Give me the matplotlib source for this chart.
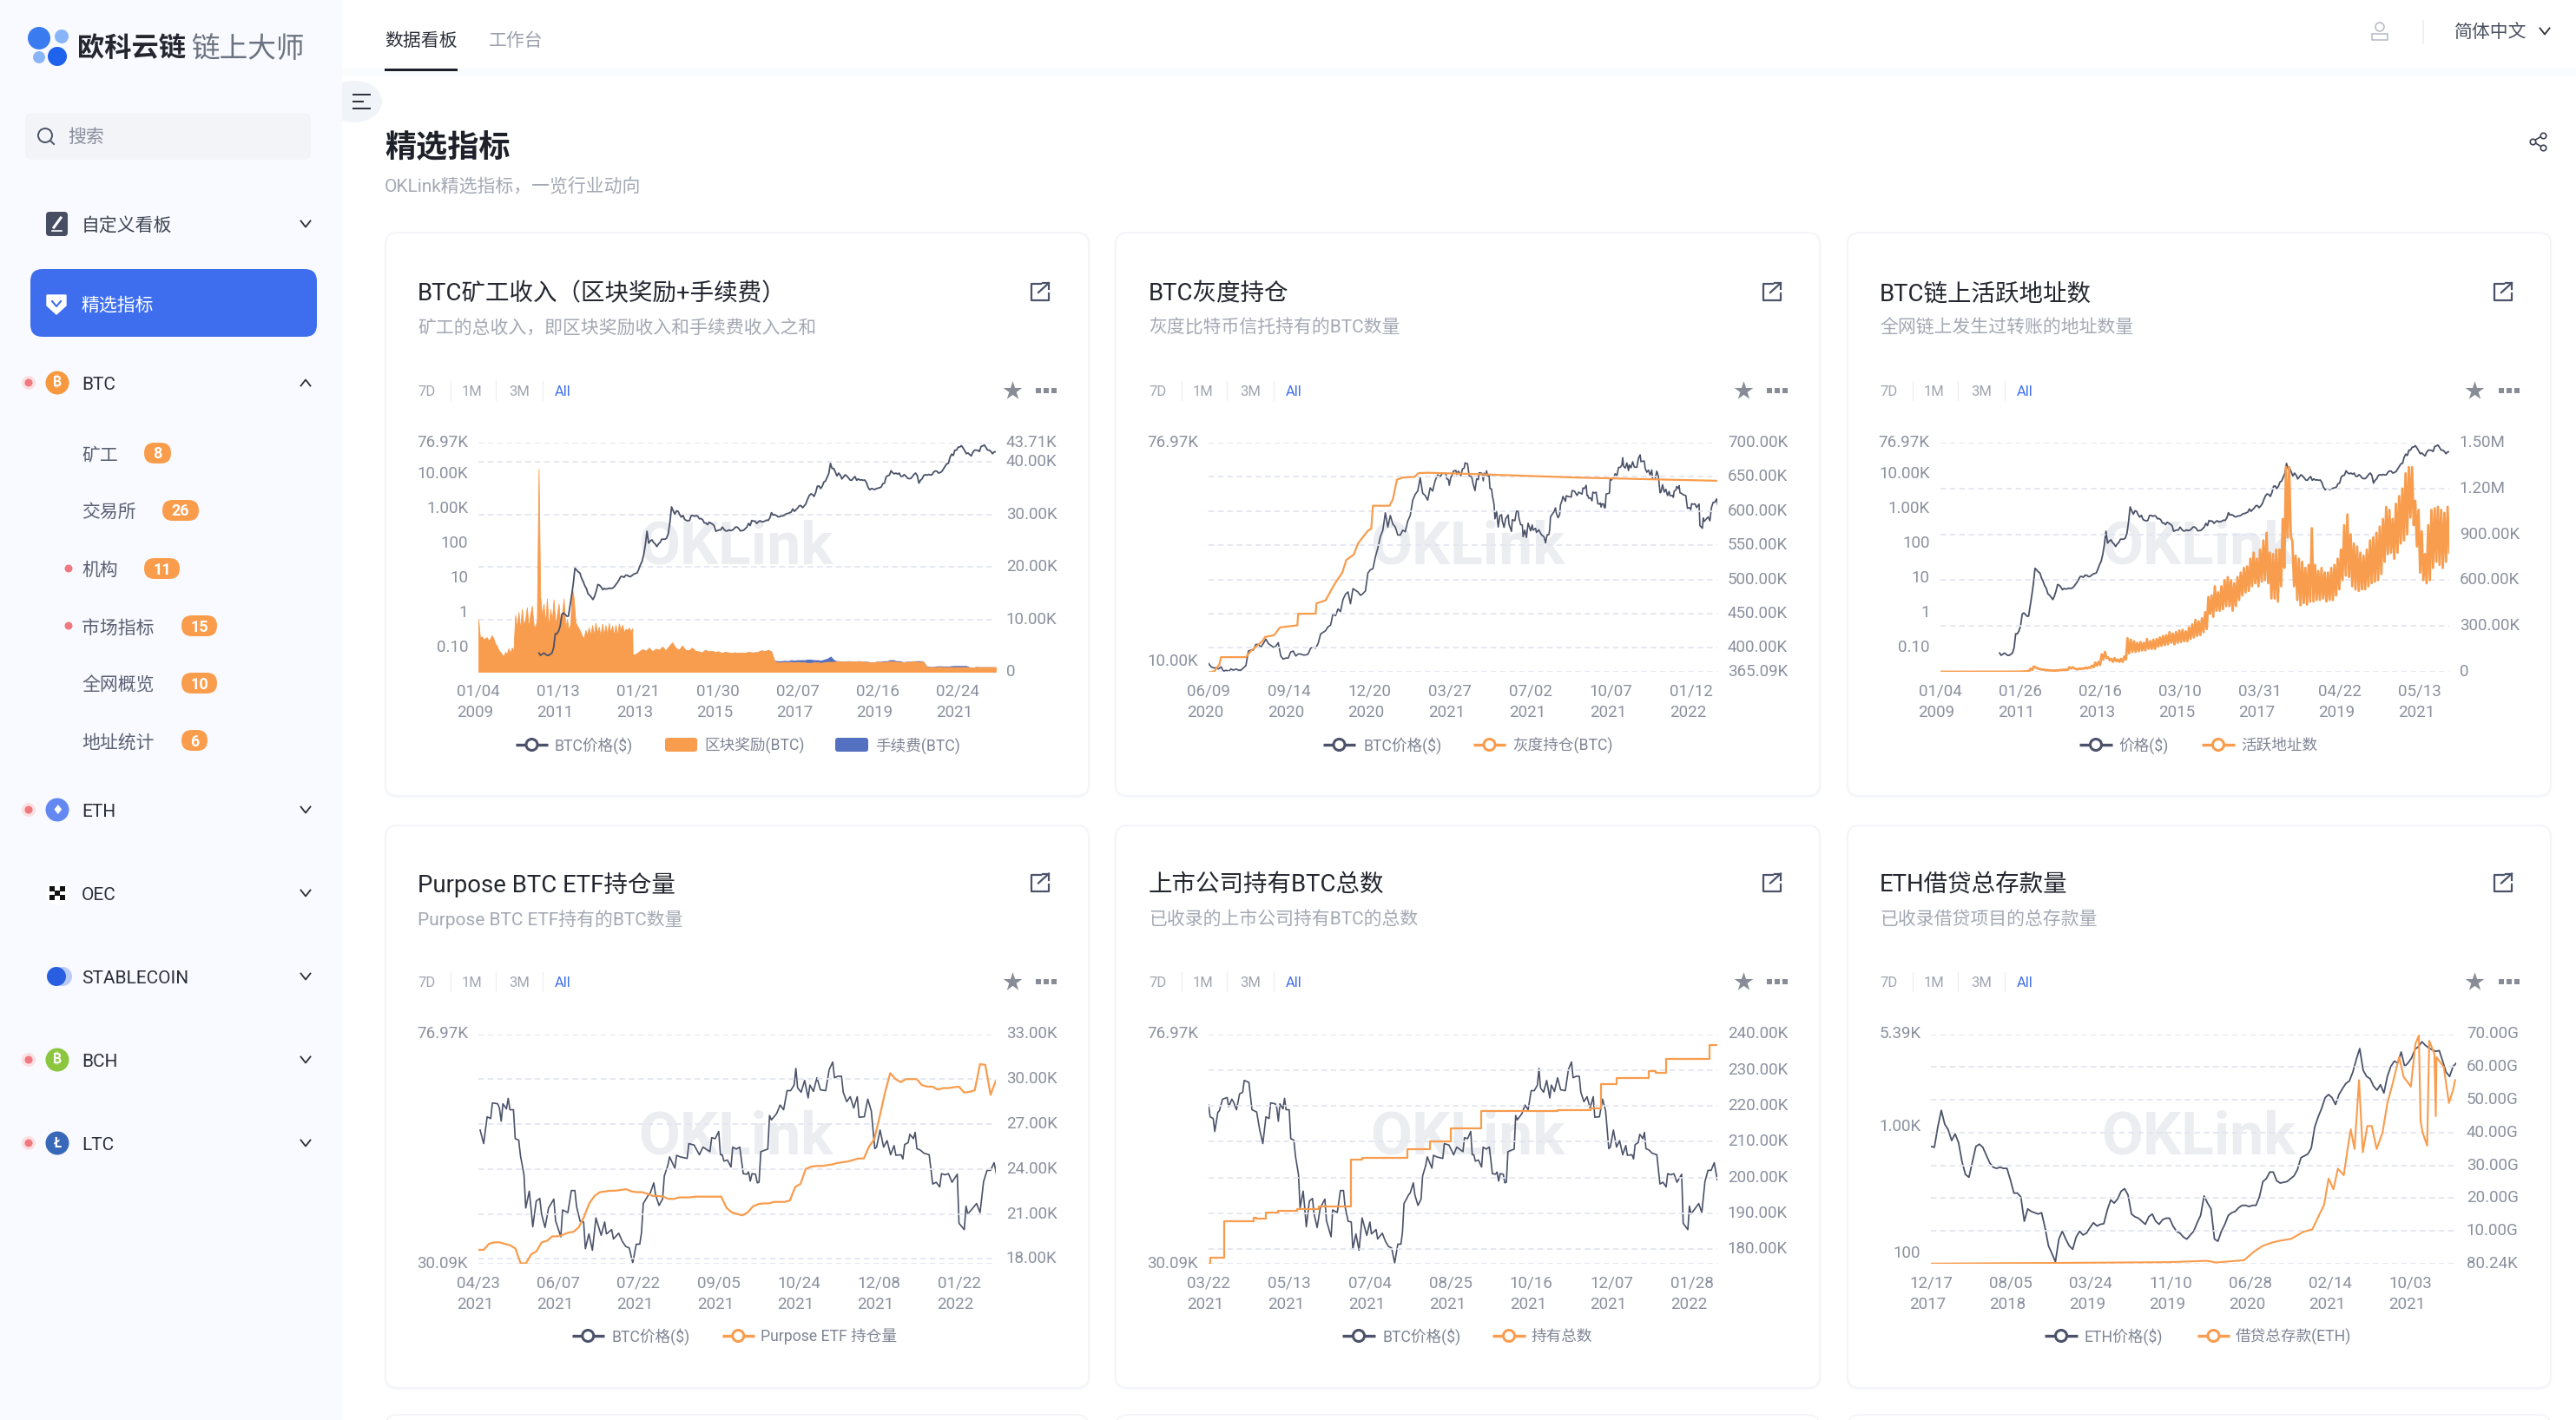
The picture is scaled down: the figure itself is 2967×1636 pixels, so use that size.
import matplotlib
matplotlib.use("Agg")
import matplotlib.dates as mdates
import matplotlib.pyplot as plt
import numpy as np
import pandas as pd
from matplotlib.patches import Circle, Ellipse, FancyBboxPatch, Rectangle
from matplotlib.transforms import ScaledTranslation

plt.rcParams["font.family"] = ["Roboto", "Noto Sans CJK SC", "DejaVu Sans"]

W, H = 2967, 1636

# --- chart data ------------------------------------------------------------
# BTC price, two readings a month, 2010-07 .. 2022-02
btc_history = [
    0.07, 0.06, 0.065, 0.07, 0.065, 0.06, 0.06, 0.065, 0.07, 0.1, 0.25, 0.25,
    0.3, 0.42, 0.9, 1.0, 0.9, 0.8, 0.8, 1.6, 3.2, 7, 19, 17, 15, 14, 10, 8, 6, 5, 3.5, 3.2, 2.8, 2.4, 3, 4.2,
    6.5, 6.2, 5.5, 4.6, 5, 4.8, 4.9, 5.1, 5, 5.1, 5.6, 6.5, 7.5, 9, 11, 11, 10.5, 12, 12, 11, 11, 12, 13, 13.5,
    14, 18, 24, 30, 47, 90, 220, 100, 115, 125, 105, 95, 80, 95, 105, 130, 130, 130, 140, 190, 400, 1100, 850, 680,
    850, 820, 650, 560, 630, 480, 450, 440, 450, 620, 630, 590, 620, 590, 500, 510, 470, 380, 380, 340, 400, 375, 350, 320,
    220, 230, 240, 240, 290, 250, 225, 225, 240, 230, 235, 255, 290, 290, 265, 225, 230, 235, 260, 290, 370, 320, 450, 430,
    430, 370, 410, 440, 410, 415, 430, 460, 450, 530, 750, 640, 660, 625, 570, 575, 605, 610, 640, 700, 710, 745, 780, 960,
    820, 920, 1020, 1190, 1200, 1040, 1170, 1350, 1800, 2300, 2600, 2500, 2200, 2850, 4300, 4400, 3700, 4300, 5700, 6100, 7800, 10000, 19500, 14000,
    14000, 11000, 8500, 10300, 9000, 7000, 8000, 9200, 8500, 7500, 6500, 6400, 7400, 8200, 6400, 7000, 6500, 6600, 6400, 6500, 5500, 4000, 3400, 3700,
    3600, 3450, 3700, 3800, 3900, 4100, 5100, 5300, 8000, 8700, 9000, 12000, 10500, 9800, 10300, 9600, 10300, 8300, 8300, 9300, 8500, 7400, 7100, 7200,
    8100, 9400, 10300, 8800, 5300, 6400, 7100, 8800, 9300, 9000, 9400, 9100, 9200, 11000, 11800, 11700, 10300, 10700, 11400, 13500, 16000, 19000, 19500, 29000,
    36000, 33000, 47000, 47000, 57000, 58000, 63000, 54000, 45000, 37000, 39000, 35000, 32000, 41000, 47000, 47000, 46000, 43000, 60000, 62000, 66000, 56000, 47000, 47000,
    43000, 37000, 42000, 42000,
]

# BTC price every 3 days from 2020-06-09 to 2021-03-18, in $K
btc_2020 = [
    9.8, 9.5, 9.4, 9.4, 9.3, 9.5, 9.1, 9.2, 9.1, 9.3, 9.2, 9.3, 9.2, 9.2, 9.4, 9.6, 11.0, 11.1,
    11.1, 11.7, 11.7, 11.4, 11.8, 12.3, 11.8, 11.6, 11.4, 11.5, 11.9, 10.5, 10.2, 10.3, 10.3,
    10.9, 11.0, 10.5, 10.7, 10.7, 10.6, 10.6, 10.7, 11.3, 11.4, 11.3, 11.8, 12.9, 13.1, 13.3,
    13.8, 14.0, 15.6, 15.3, 16.3, 15.9, 17.8, 18.7, 19.1, 17.1, 19.7, 19.4, 19.1, 18.5, 18.8,
    19.3, 22.8, 23.5, 23.7, 26.5, 28.8, 32, 34, 40, 35, 39, 36, 35, 32.5, 32.5, 34, 33.5, 37,
    39, 45, 47.5, 49, 55.5, 48, 47, 45, 50.5, 49, 54, 57, 56, 58,
]

# BTC price turning points, days after 2021-03-22, in $K
btc_2021_days = [
    0, 1, 3, 4, 6, 7, 9, 12, 13, 15, 16, 18, 20, 22, 23, 26, 28, 31, 33, 35, 37, 39, 40, 43, 44, 45, 46, 48,
    49, 50, 52, 53, 55, 56, 58, 59, 61, 62, 63, 65, 67, 68, 70, 72, 75, 76, 79, 80, 83, 85, 87, 88, 90, 92,
    93, 95, 97, 99, 102, 104, 105, 108, 109, 112, 114, 116, 118, 120, 122, 124, 125, 126, 129, 130, 132, 133,
    135, 137, 138, 140, 141, 144, 145, 147, 151, 152, 155, 158, 160, 164, 165, 167, 169, 170, 171, 172, 174,
    176, 177, 179, 181, 183, 185, 186, 187, 188, 190, 191, 192, 193, 197, 198, 199, 202, 204, 206, 208, 210,
    212, 213, 214, 216, 218, 220, 221, 223, 225, 227, 230, 232, 234, 235, 237, 239, 240, 242, 244, 246, 248,
    249, 252, 253, 254, 256, 258, 259, 261, 263, 265, 267, 269, 270, 273, 274, 275, 277, 278, 280, 281, 282,
    284, 286, 289, 291, 293, 295, 296, 298, 300, 302, 305, 306, 309, 310, 311, 313, 316, 318, 320, 322, 324,
    326, 328,
]
btc_2021 = [
    57.6, 54.9, 54.5, 51.7, 55.9, 56.3, 59.0, 59.4, 57.2, 59.0, 58.4, 56.5, 60.3, 60.7, 63.7, 63.2, 56.5, 56.0,
    52.0, 49.2, 54.9, 54.5, 58.1, 57.9, 56.9, 53.9, 57.9, 56.7, 59.2, 56.5, 56.5, 50.2, 49.9, 46.8, 43.3, 37.8,
    40.5, 37.8, 35.0, 38.9, 39.3, 36.9, 34.9, 37.8, 39.2, 35.9, 33.6, 37.5, 37.1, 40.6, 40.6, 38.0, 35.8, 35.7,
    32.0, 34.0, 31.8, 36.3, 33.8, 35.7, 34.0, 34.6, 33.3, 34.1, 33.0, 32.3, 32.1, 30.2, 32.6, 32.6, 34.2, 38.5,
    39.9, 40.2, 41.9, 39.9, 38.2, 39.2, 43.1, 45.0, 46.6, 44.5, 46.9, 46.6, 46.3, 49.2, 48.9, 47.0, 48.5, 47.6,
    50.4, 50.2, 51.7, 47.0, 47.0, 45.8, 46.0, 44.7, 48.5, 48.1, 48.5, 43.5, 43.4, 43.8, 42.2, 43.5, 43.4, 41.9,
    42.0, 47.6, 48.1, 55.2, 54.2, 55.6, 57.6, 56.5, 61.1, 61.1, 62.5, 66.9, 61.8, 60.7, 63.7, 59.3, 62.5, 60.9,
    64.4, 61.3, 61.1, 66.6, 68.7, 64.4, 64.8, 64.8, 60.7, 58.4, 59.6, 56.9, 59.6, 54.8, 54.9, 56.9, 59.0, 56.2,
    48.2, 48.5, 52.0, 48.5, 49.8, 47.0, 48.8, 46.9, 47.0, 46.2, 49.0, 49.4, 51.1, 50.2, 51.5, 48.2, 47.9, 47.3,
    47.0, 41.7, 42.0, 41.2, 43.5, 43.3, 43.5, 42.0, 43.4, 35.5, 34.6, 38.1, 36.9, 37.5, 38.5, 37.1, 42.1, 44.1,
    44.1, 45.5, 42.4,
]

# block reward, BTC: twice a month 2009-01 .. 2012-11, then monthly, in K
reward_early = [
    10, 6.4, 6.8, 6.2, 6.4, 6.6, 6.0, 6.3, 7.0, 6.4, 5.4, 5.0, 4.2, 3.8, 3.4, 2.9, 3.8, 3.4, 4.5,
    3.6, 4.6, 4.0, 10.8, 8.5, 11.4, 8.2, 12.0, 8.8, 10.0, 12.3, 8.4, 11, 12.6, 9.0, 8.4, 10,
    38.7, 14.4, 10.5, 13, 9.2, 14, 8.5, 12, 9.8, 13.8, 9, 11, 13, 8.7, 11, 14, 8.4, 10, 7.9,
    9.2, 16, 14, 9.5, 8.8, 8.3, 7.6, 6.8, 6.4, 8, 7, 8.5, 7, 8.9, 7, 9.4, 7.4, 8.6, 6.9, 9.2,
    7.0, 8.9, 7.2, 9.3, 7.5, 8.8, 7, 9.0, 7.0, 9.2, 8, 9, 7.5, 8.2, 8, 8.4, 7.8, 8.3,
]
reward_late = [
    3.3,
    3.4, 3.9, 4.3, 4.0, 4.6, 3.9, 4.4, 4.2, 4.8, 4.1, 4.9, 5.6,
    4.6, 4.2, 5.0, 4.2, 4.1, 4.6, 4.0, 3.9, 3.7, 4.2, 3.9, 4.0,
    3.8, 3.9, 3.6, 3.8, 3.7, 3.6, 3.7, 3.6, 3.7, 3.6, 3.8, 3.7,
    3.7, 3.8, 4.1, 3.9, 4.2, 3.9, 2.0, 1.8, 1.8, 1.9, 1.8, 1.9,
    1.8, 1.9, 1.8, 1.8, 1.7, 1.7, 1.8, 1.8, 1.7, 1.8, 1.9, 1.9,
    1.9, 2.0, 2.0, 1.9, 2.0, 2.0, 1.9, 2.0, 2.0, 1.9, 1.9, 1.8,
    1.8, 1.9, 1.9, 1.9, 1.9, 2.0, 2.0, 1.9, 1.9, 1.8, 1.9, 1.9,
    2.0, 1.9, 1.9, 2.0, 0.95, 0.9, 0.9, 0.9, 0.95, 0.9, 0.9, 0.9,
    0.9, 0.9, 0.9, 0.9, 0.9, 0.85, 0.8, 0.9, 0.9, 0.9, 0.9, 0.9,
    0.9, 0.9,
]
fee_late = [
    0.01,
    0.03, 0.03, 0.05, 0.05, 0.03, 0.03, 0.03, 0.03, 0.03, 0.03, 0.05, 0.05,
    0.03, 0.03, 0.03, 0.03, 0.03, 0.03, 0.03, 0.03, 0.03, 0.03, 0.03, 0.03,
    0.03, 0.03, 0.03, 0.03, 0.03, 0.03, 0.05, 0.03, 0.03, 0.03, 0.03, 0.03,
    0.05, 0.05, 0.05, 0.05, 0.05, 0.05, 0.2, 0.3, 0.3, 0.3, 0.3, 0.4,
    0.4, 0.4, 0.5, 0.5, 0.7, 0.7, 0.5, 0.5, 0.5, 0.6, 0.7, 1.1,
    0.4, 0.1, 0.1, 0.1, 0.1, 0.1, 0.1, 0.1, 0.1, 0.1, 0.1, 0.1,
    0.1, 0.1, 0.1, 0.2, 0.2, 0.3, 0.3, 0.2, 0.2, 0.1, 0.1, 0.1,
    0.1, 0.2, 0.2, 0.1, 0.2, 0.1, 0.1, 0.2, 0.2, 0.2, 0.2, 0.2,
    0.3, 0.3, 0.3, 0.3, 0.3, 0.1, 0.05, 0.1, 0.05, 0.05, 0.05, 0.05,
    0.05, 0.05,
]

grayscale_dates = [
    "2020-06-09", "2020-06-16", "2020-06-22", "2020-06-24", "2020-07-24", "2020-07-30",
    "2020-08-13", "2020-08-16", "2020-08-27", "2020-09-03", "2020-09-24", "2020-09-25",
    "2020-10-16", "2020-10-17", "2020-10-28", "2020-11-08", "2020-11-17", "2020-11-22",
    "2020-12-01", "2020-12-06", "2020-12-18", "2020-12-22", "2020-12-24", "2021-01-13",
    "2021-01-17", "2021-01-22", "2021-01-29", "2021-02-12", "2021-02-17", "2021-03-01",
    "2021-04-15", "2021-08-27", "2022-02-12",
]
grayscale_btc = [
    364, 366, 376, 386.5, 386.5, 395.6, 410, 416, 418.6, 430, 433, 450, 450, 465, 469.6, 493.7,
    509.8, 528.5, 536.5, 552.6, 571.4, 574, 607.8, 607.8, 617, 646, 649, 650, 655.5, 656, 654.5,
    649, 644.3,
]

# active addresses per month 2009-01 .. 2022-02, daily high and low, in K
addr_high = [
    0.2, 0.2, 0.2, 0.2, 0.2, 0.2, 0.2, 0.2, 0.2, 0.2, 0.2, 0.2,
    0.5, 0.5, 0.5, 0.5, 0.5, 0.5, 0.6, 0.6, 0.6, 0.7, 0.8, 0.8,
    1, 2, 3, 5, 20, 35, 25, 18, 15, 12, 10, 9,
    10, 12, 14, 15, 30, 30, 18, 22, 22, 28, 30, 40,
    60, 65, 115, 130, 95, 85, 90, 80, 85, 100, 220, 210,
    200, 190, 195, 190, 215, 200, 210, 215, 225, 235, 240, 260,
    250, 260, 270, 275, 265, 290, 310, 340, 330, 350, 390, 490,
    500, 560, 520, 560, 600, 620, 600, 580, 620, 650, 680, 690,
    740, 780, 740, 800, 860, 910, 780, 770, 800, 800, 1000, 1340,
    1340, 850, 760, 740, 720, 680, 700, 940, 700, 660, 680, 650,
    650, 680, 700, 740, 800, 960, 1030, 900, 840, 820, 780, 760,
    800, 860, 880, 910, 950, 1000, 1080, 1060, 1000, 1100, 1150, 1200,
    1300, 1340, 1340, 1120, 1060, 920, 770, 960, 1060, 1070, 1080, 1060,
    1040, 1080,
]
addr_low = [
    0.1, 0.1, 0.1, 0.1, 0.1, 0.1, 0.1, 0.1, 0.1, 0.1, 0.1, 0.1,
    0.2, 0.2, 0.2, 0.2, 0.2, 0.2, 0.3, 0.3, 0.3, 0.3, 0.4, 0.4,
    0.6, 1, 2, 3, 12, 28, 20, 14, 12, 10, 8, 7,
    8, 10, 12, 13, 22, 24, 15, 18, 20, 22, 25, 30,
    40, 45, 80, 90, 75, 65, 70, 65, 65, 80, 120, 130,
    130, 135, 140, 140, 150, 150, 150, 165, 170, 175, 180, 190,
    180, 190, 195, 200, 200, 215, 225, 235, 240, 260, 280, 380,
    360, 400, 400, 410, 430, 430, 400, 430, 470, 500, 520, 530,
    560, 580, 560, 590, 600, 580, 480, 480, 460, 560, 680, 880,
    890, 560, 470, 435, 450, 440, 460, 460, 470, 470, 480, 460,
    470, 470, 500, 540, 600, 630, 620, 560, 540, 530, 540, 540,
    560, 580, 590, 600, 640, 720, 770, 780, 740, 780, 840, 860,
    900, 1010, 960, 820, 650, 600, 580, 600, 680, 720, 700, 680,
    720, 780,
]

# Purpose ETF holdings every 3 days from 2021-04-23, in K
etf_holdings = [
    18.6, 18.6, 19.0, 19.1, 19.1, 19.0, 18.9, 18.7, 17.7, 17.7, 18.3, 18.5, 19.1, 19.2, 19.5, 19.5,
    19.6, 19.75, 19.8, 20.1, 20.8, 21.7, 22.2, 22.45, 22.5, 22.55, 22.55, 22.6, 22.65, 22.5, 22.45,
    22.45, 22.35, 22.2, 22.2, 22.15, 22.0, 22.0, 22.1, 22.1, 22.1, 22.15, 22.15, 22.15, 22.15, 22.15,
    22.15, 21.4, 21.1, 21.0, 20.9, 21.1, 21.5, 21.65, 21.7, 21.7, 21.8, 21.8, 21.8, 21.9, 22.8, 23.0,
    24.0, 24.15, 24.2, 24.2, 24.25, 24.3, 24.4, 24.45, 24.5, 24.6, 24.7, 24.7, 25.5, 26.0, 27.5, 29.1,
    30.4, 30.0, 29.8, 30.0, 30.0, 30.0, 29.6, 29.5, 29.5, 29.3, 29.4, 29.4, 29.45, 29.5, 29.1, 29.15,
    29.25, 31.0, 30.95, 28.95, 29.9,
]

# listed companies' BTC, changes only on these dates, in K
listed_dates = [
    "2021-03-22", "2021-03-23", "2021-04-01", "2021-04-20", "2021-04-22", "2021-04-28", "2021-05-06",
    "2021-05-18", "2021-06-01", "2021-06-22", "2021-06-29", "2021-07-28", "2021-08-12", "2021-08-25",
    "2021-09-14", "2021-11-02", "2021-11-23", "2021-11-30", "2021-12-10", "2021-12-31", "2022-01-04",
    "2022-01-11", "2022-02-08", "2022-02-13",
]
listed_btc = [
    176, 177.6, 187.9, 188.8, 188.5, 190.2, 190.8, 191.2, 192, 205, 205.5, 207.9, 210, 213.7, 218.7,
    218.9, 219.3, 226.2, 227.8, 229.8, 229.3, 233, 236.9, 236.9,
]

# ETH price every 10 days from 2017-12-17
eth_price = [
    700, 690, 1000, 1350, 1050, 950, 780, 880, 750, 530, 420, 400, 530, 700, 730, 690, 600, 520, 480,
    470, 480, 470, 470, 380, 300, 300, 280, 180, 225, 215, 210, 205, 210, 160, 115, 100, 86, 130, 150,
    130, 115, 108, 135, 150, 140, 145, 160, 175, 165, 170, 172, 220, 265, 250, 270, 310, 325, 290, 205,
    195, 190, 180, 170, 195, 205, 180, 170, 185, 190, 190, 165, 150, 145, 135, 130, 140, 150, 175, 200,
    285, 250, 225, 130, 125, 150, 170, 200, 210, 215, 230, 240, 240, 235, 240, 240, 280, 370, 390, 440,
    440, 375, 360, 365, 370, 390, 410, 460, 570, 590, 610, 680, 1000, 1200, 1400, 1700, 1800, 1700, 1500,
    1800, 2000, 2200, 2300, 2700, 3400, 4150, 2800, 2500, 2400, 2100, 1950, 2150, 1850, 2500, 3000, 3300,
    3200, 3900, 3000, 3200, 3500, 4100, 4300, 4700, 4400, 4200, 4050, 3950, 4000, 3300, 2700, 2500, 3000,
    3200,
]

# lending deposits, days after 2017-12-17, in G
lending_days = [
    0, 418, 689, 798, 825, 906, 933, 960, 988, 1008, 1042, 1076, 1103, 1116, 1137, 1150, 1164, 1177, 1194,
    1205, 1214, 1225, 1238, 1249, 1262, 1275, 1289, 1306, 1320, 1333, 1354, 1367, 1388, 1401, 1411, 1416,
    1422, 1435, 1441, 1456, 1460, 1462, 1483, 1498, 1510, 1516,
]
lending_eth = [
    0.05, 0.3, 0.5, 0.9, 0.4, 1.1, 3.6, 5.5, 6.5, 7, 7.6, 9.7, 10.5, 13.4, 18, 26, 22.7, 29, 27, 35, 41, 35,
    56, 34, 42, 42, 35, 40, 49, 54, 63, 57, 54, 67, 69.6, 43.5, 40, 36, 68, 64, 45, 63, 60, 49, 53, 56,
]

# --- colours ---------------------------------------------------------------
DARK = "#4b5269"
ORANGE = "#f89c4d"
BLUE = "#5470c0"
GRID = "#e3e5f0"
TICK = "#8b909e"
SUB = "#a3a8b3"
ACCENT = "#3e6eee"
SIDE = "#f8faff"

fig = plt.figure(figsize=(W / 100, H / 100), dpi=100, facecolor="white")
bg = fig.add_axes([0, 0, 1, 1], zorder=0)
bg.set_xlim(0, W)
bg.set_ylim(H, 0)
bg.axis("off")


def t(x, y, s, size=15, color="#2b2f38", ha="left", weight="normal", **kw):
    bg.text(x, y + 2.5, s, fontsize=size, color=color, ha=ha, va="center", weight=weight, **kw)


def box(x0, y0, x1, y1, r, fc, ec="none", lw=1.0, z=1):
    bg.add_patch(FancyBboxPatch((x0 + r, y0 + r), x1 - x0 - 2 * r, y1 - y0 - 2 * r,
                                boxstyle=f"round,pad={r},rounding_size={r}",
                                fc=fc, ec=ec, lw=lw, zorder=z))


def chevron(x, y, up=False):
    d = -3.5 if up else 3.5
    bg.plot([x - 5.5, x, x + 5.5], [y - d, y + d, y - d], color="#2b2f38", lw=1.3, zorder=3)


def dot(x, y):
    bg.add_patch(Circle((x, y), 8, fc="#fbdfe2", ec="none", zorder=3))
    bg.add_patch(Circle((x, y), 4.5, fc="#f0797f", ec="none", zorder=4))


# --- sidebar and header ----------------------------------------------------
bg.add_patch(Ellipse((408, 117), 64, 48, fc="#f0f3f8", ec="none", zorder=0.2))
bg.add_patch(Rectangle((0, 0), 394, H, fc=SIDE, ec="none", zorder=0.5))
bg.add_patch(Rectangle((394, 78), W - 394, 10, fc="#fafbfc", ec="none", zorder=0))
for yy, x1 in [(109, 426), (117, 418), (125, 426)]:
    bg.plot([407, x1], [yy, yy], color="#2b2f38", lw=1.4, zorder=2)

bg.add_patch(Circle((45, 44), 13, fc="#3a7bf0", ec="none", zorder=2))
bg.add_patch(Circle((71, 42), 8, fc="#8ab4f8", ec="none", zorder=2))
bg.add_patch(Circle((45, 66), 7, fc="#8ab4f8", ec="none", zorder=2))
bg.add_patch(Circle((66, 65), 11, fc="#1f62ec", ec="none", zorder=2))
t(89, 54, "欧科云链", 22.5, "#24272f", weight="bold", zorder=3)
t(220, 54, "链上大师", 23.5, "#6b7280", zorder=3)

t(443, 45, "数据看板", 15, "#2b2f38")
t(563, 45, "工作台", 15, "#9a9fac")
bg.add_patch(Rectangle((443, 79), 84, 3, fc="#1b1f2a", ec="none", zorder=2))

box(29, 130, 358, 184, 8, "#f2f4f8")
bg.add_patch(Circle((52, 156), 8, fc="none", ec="#4b5269", lw=1.4, zorder=2))
bg.plot([58, 62], [162, 166], color="#4b5269", lw=1.4, zorder=2)
t(78, 155.5, "搜索", 15, "#8a8f9d", zorder=3)

box(53, 244, 78, 272, 4, "#474e64")
bg.plot([60, 71], [266, 266], color="white", lw=1.2, zorder=3)
bg.plot([62, 70], [262, 251], color="white", lw=2.2, zorder=3)
t(94, 258, "自定义看板", 15, "#3c4252", zorder=3)
chevron(352, 258)

box(35, 310, 365, 388, 14, ACCENT)
bg.fill([54, 76, 76, 65, 54], [340, 340, 352, 362, 352], color="white", zorder=3)
bg.plot([60, 65, 70], [347, 353, 347], color=ACCENT, lw=1.5, zorder=4)
t(93, 349, "精选指标", 15, "white", zorder=3)

coin_rows = [
    ("BTC", 441, "#f7983e", "₿"),
    ("ETH", 933, "#6488f2", "♦"),
    ("OEC", 1029, "white", ""),
    ("STABLECOIN", 1125, "#2a5ee0", ""),
    ("BCH", 1221, "#8cc63f", "₿"),
    ("LTC", 1317, "#3868b8", "Ł"),
]
red_rows = ["BTC", "ETH", "BCH", "LTC"]
for name, yy, col, glyph in coin_rows:
    if name in red_rows:
        dot(33, yy)
    if name == "STABLECOIN":
        bg.add_patch(Circle((72, yy), 11, fc="#b9cbf5", ec="none", zorder=2))
        bg.add_patch(Circle((65, yy), 11, fc=col, ec="none", zorder=3))
    else:
        bg.add_patch(Circle((66, yy), 13.5, fc=col, ec="none", zorder=2))
        bg.text(66, yy, glyph, fontsize=11, color="white", ha="center", va="center",
                family=["Inter", "Noto Sans", "Roboto", "Open Sans", "Lato", "DejaVu Sans"], weight="bold", zorder=3)
    if name == "OEC":
        bg.scatter([60, 72, 66, 60, 72], [yy - 5, yy - 5, yy, yy + 5, yy + 5], marker="s", s=18, color="#111111", lw=0, zorder=3)
    t(94, yy, name, 15, "#2b2f38", zorder=3)
    chevron(352, yy, up=name == "BTC")

sub_rows = [("矿工", "8", 522, 166, 197), ("交易所", "26", 588, 187, 229), ("机构", "11", 655, 166, 207),
            ("市场指标", "15", 721, 209, 250), ("全网概览", "10", 787, 209, 250), ("地址统计", "6", 853, 209, 239)]
for label, count, yy, p0, p1 in sub_rows:
    t(94, yy, label, 15, "#5a6072", zorder=3)
    box(p0, yy - 12, p1, yy + 12, 12, "#f99d4d")
    t((p0 + p1) / 2, yy - 1, count, 13, "white", ha="center", weight="bold", zorder=3)
for yy in (655, 721):
    bg.add_patch(Circle((79, yy), 4.5, fc="#f0797f", ec="none", zorder=3))

t(443, 169, "精选指标", 26, "#1e2129", weight="bold")
t(443, 213, "OKLink精选指标，一览行业动向", 15, SUB)

# top right
bg.add_patch(Circle((2741, 31), 5, fc="none", ec="#b4b8c2", lw=1.1, zorder=2))
bg.add_patch(Rectangle((2732, 39), 18, 7, fc="none", ec="#b4b8c2", lw=1.1, zorder=2))
bg.plot([2791, 2791], [24, 50], color="#eceef2", lw=1.2, zorder=2)
t(2827, 35, "简体中文", 15, "#4a5060")
chevron(2931, 36)
for p, q in [((2917, 163), (2929, 156)), ((2917, 163), (2929, 170))]:
    bg.plot([p[0], q[0]], [p[1], q[1]], color="#3c4252", lw=1.2, zorder=2)
bg.scatter([2917, 2929, 2929], [163, 156, 170], s=22, fc="white", ec="#3c4252", lw=1.2, zorder=3)


def card_chrome(col_x, row_y, title, subtitle, title_x, export_x, star_x, dots_x, wm_x, rows):
    x0, x1 = col_x
    y0, y1 = row_y
    box(x0 - 2, y0 - 1, x1 + 2, y1 + 3, 16, "#fafbfc", z=0)
    box(x0, y0, x1, y1, 14, "white", ec="#f3f4f8", lw=1.2, z=1)
    ty, sy, by, wy = rows
    t(title_x, ty + 0.5, title, 19.8, "#23262e", zorder=3)
    t(title_x, sy + 0.5, subtitle, 15, SUB, zorder=3)
    for dx, lab, col in [(0, "7D", "#a0a5b0"), (51, "1M", "#a0a5b0"), (105, "3M", "#a0a5b0"), (158, "All", ACCENT)]:
        t(title_x + dx, by - 1, lab, 12, col, zorder=3)
    for dx in (38, 90, 144):
        bg.plot([title_x + dx] * 2, [by - 11, by + 11], color="#eef0f4", lw=1, zorder=3)
    bg.scatter([star_x], [by], marker="*", s=270, color="#888c96", lw=0, zorder=3)
    bg.scatter([dots_x - 9, dots_x, dots_x + 9], [by] * 3, marker="s", s=17, color="#888c96", lw=0, zorder=3)
    ex = export_x
    bg.plot([ex + 1, ex - 10, ex - 10, ex + 10, ex + 10], [ty - 9, ty - 9, ty + 10, ty + 10, ty + 2],
            color=DARK, lw=1.6, zorder=3)
    bg.plot([ex - 2, ex + 10], [ty + 1, ty - 10], color=DARK, lw=1.6, zorder=3)
    bg.plot([ex + 3, ex + 10, ex + 10], [ty - 10, ty - 10, ty - 3], color=DARK, lw=1.6, zorder=3)
    bg.text(wm_x, wy + 7, "OKLink", fontsize=50, color="#ebedf0", ha="center", va="center", weight="bold", zorder=2)


def line_key(x0, x1, y, col, label, tx):
    bg.plot([x0, x1], [y, y], color=col, lw=2.4, zorder=3, solid_capstyle="butt")
    bg.add_patch(Circle(((x0 + x1) / 2, y), 6.5, fc="white", ec=col, lw=2.2, zorder=4))
    t(tx, y - 1.5, label, 12.7, "#7e8494", zorder=3)


def area_key(x0, x1, y, col, label, tx):
    box(x0, y - 8, x1, y + 8, 3, col, z=3)
    t(tx, y - 1.5, label, 12.7, "#7e8494", zorder=3)


def panel(box_px, start, end, tick_labels, left_ticks, left_labels, left_lim, right_ticks, right_labels, right_lim):
    x0, x1, y0, y1 = box_px
    ax = fig.add_axes([x0 / W, 1 - y1 / H, (x1 - x0) / W, (y1 - y0) / H], zorder=1)
    ax.patch.set_visible(False)
    ax.set_yscale("log")
    ax.set_ylim(*left_lim)
    ax.set_yticks(left_ticks, left_labels)
    ax.minorticks_off()
    ax.tick_params(axis="y", length=0, pad=8.5, labelsize=13.5, labelcolor=TICK)
    ax.tick_params(axis="x", length=0, pad=10, labelsize=13.5, labelcolor=TICK)
    ax.set_xlim(mdates.date2num(pd.Timestamp(start)), mdates.date2num(pd.Timestamp(end)))
    first, last = [pd.Timestamp(s[6:] + "-" + s[:2] + "-" + s[3:5]) for s in (tick_labels[0], tick_labels[-1])]
    ax.set_xticks(np.linspace(mdates.date2num(first), mdates.date2num(last), len(tick_labels)), tick_labels)
    for lab in ax.get_xticklabels():
        lab.set_multialignment("left")
        lab.set_linespacing(1.42)
    rx = ax.twinx()
    rx.patch.set_visible(False)
    rx.set_ylim(*right_lim)
    rx.set_yticks(right_ticks, right_labels)
    rx.tick_params(axis="y", length=0, pad=8.5, labelsize=13.5, labelcolor=TICK)
    rx.grid(True, axis="y", color=GRID, lw=1.3, ls=(0, (3.5, 2.5)))
    rx.set_axisbelow(True)
    up = ScaledTranslation(0, 2 / 100, fig.dpi_scale_trans)
    for lab in ax.get_yticklabels() + rx.get_yticklabels():
        lab.set_transform(lab.get_transform() + up)
    for a in (ax, rx):
        for sp in a.spines.values():
            sp.set_visible(False)
    return ax, rx


def num(d):
    return mdates.date2num(pd.DatetimeIndex(d))


COL1, COL2, COL3 = (444, 1254), (1285, 2096), (2128, 2938)
ROW1, ROW2 = (268, 917), (951, 1599)
R1 = (336, 375, 449.5, 624)
R2 = (1016.5, 1056, 1130.7, 1304)
END = "2022-02-13"

price_x = pd.date_range("2010-07-18", END, periods=len(btc_history))
recent_x = pd.date_range("2020-06-09", periods=len(btc_2020), freq="3D").append(
    pd.Timestamp("2021-03-22") + pd.to_timedelta(btc_2021_days, unit="D"))
recent_usd = np.array(btc_2020 + btc_2021) * 1000

# panel 1
card_chrome(COL1, ROW1, "BTC矿工收入（区块奖励+手续费）", "矿工的总收入，即区块奖励收入和手续费收入之和",
            481, 1198, 1166, 1205, 847, R1)
ax, rx = panel((551, 1147, 510, 774), "2009-01-04", END,
               ["01/04\n2009", "01/13\n2011", "01/21\n2013", "01/30\n2015", "02/07\n2017", "02/16\n2019", "02/24\n2021"],
               [76970, 10000, 1000, 100, 10, 1, 0.1], ["76.97K", "10.00K", "1.00K", "100", "10", "1", "0.10"], (0.0202, 76970),
               [0, 10, 20, 30, 40, 43.71], ["0", "10.00K", "20.00K", "30.00K", "40.00K", "43.71K"], (0, 43.71))
ax.set_zorder(2)
rx.set_zorder(1)
reward_x = pd.date_range("2009-01-04", "2012-11-28", periods=len(reward_early)).append(
    pd.date_range("2012-12-01", END, periods=len(reward_late)))
reward = np.array(reward_early + reward_late)
fee = np.concatenate([np.zeros(len(reward_early)), fee_late])
rx.fill_between(num(reward_x), reward, reward + fee, color=BLUE, lw=0, zorder=2)
rx.fill_between(num(reward_x), 0, reward, color=ORANGE, lw=0.6, zorder=2)
ax.plot(num(price_x), btc_history, color=DARK, lw=1.3)
line_key(594, 631, 858, DARK, "BTC价格($)", 639)
area_key(766, 803, 858, ORANGE, "区块奖励(BTC)", 811)
area_key(962, 1000, 858, BLUE, "手续费(BTC)", 1008)

# panel 2
card_chrome(COL2, ROW1, "BTC灰度持仓", "灰度比特币信托持有的BTC数量", 1323, 2041, 2008, 2047, 1690, R1)
ax, rx = panel((1392, 1978, 510, 774), "2020-06-09", "2022-02-12",
               ["06/09\n2020", "09/14\n2020", "12/20\n2020", "03/27\n2021", "07/02\n2021", "10/07\n2021", "01/12\n2022"],
               [76970, 10000], ["76.97K", "10.00K"], (9060, 76970),
               [365.09, 400, 450, 500, 550, 600, 650, 700],
               ["365.09K", "400.00K", "450.00K", "500.00K", "550.00K", "600.00K", "650.00K", "700.00K"], (365.09, 700))
ax.plot(num(recent_x), recent_usd, color=DARK, lw=1.2)
rx.plot(num(grayscale_dates), grayscale_btc, color=ORANGE, lw=1.6)
line_key(1524, 1561, 858, DARK, "BTC价格($)", 1570)
line_key(1697, 1734, 858, ORANGE, "灰度持仓(BTC)", 1742)

# panel 3
card_chrome(COL3, ROW1, "BTC链上活跃地址数", "全网链上发生过转账的地址数量", 2165, 2883, 2850, 2890, 2532, R1)
ax, rx = panel((2234.5, 2821, 510, 774), "2009-01-04", END,
               ["01/04\n2009", "01/26\n2011", "02/16\n2013", "03/10\n2015", "03/31\n2017", "04/22\n2019", "05/13\n2021"],
               [76970, 10000, 1000, 100, 10, 1, 0.1], ["76.97K", "10.00K", "1.00K", "100", "10", "1", "0.10"], (0.0202, 76970),
               [0, 300, 600, 900, 1200, 1500], ["0", "300.00K", "600.00K", "900.00K", "1.20M", "1.50M"], (0, 1500))
addr_x = pd.date_range("2009-01-04", END, periods=2 * len(addr_high))
addr = np.column_stack([addr_high, addr_low]).ravel()
ax.plot(num(price_x), btc_history, color=DARK, lw=1.3)
rx.plot(num(addr_x), addr, color=ORANGE, lw=2.0)
line_key(2395, 2433, 858, DARK, "价格($)", 2440)
line_key(2536, 2574, 858, ORANGE, "活跃地址数", 2581)

# panel 4
card_chrome(COL1, ROW2, "Purpose BTC ETF持仓量", "Purpose BTC ETF持有的BTC数量", 481, 1198, 1166, 1205, 847, R2)
ax, rx = panel((551, 1147, 1191.5, 1456), "2021-04-23", "2022-02-12",
               ["04/23\n2021", "06/07\n2021", "07/22\n2021", "09/05\n2021", "10/24\n2021", "12/08\n2021", "01/22\n2022"],
               [76970, 30090], ["76.97K", "30.09K"], (30090, 76970),
               [17.67, 18, 21, 24, 27, 30, 33], ["", "18.00K", "21.00K", "24.00K", "27.00K", "30.00K", "33.00K"], (17.67, 33))
mask = recent_x >= "2021-04-23"
etf_x = pd.date_range("2021-04-23", "2022-02-12", periods=len(etf_holdings))
ax.plot(num(recent_x[mask]), recent_usd[mask], color=DARK, lw=1.2)
rx.plot(num(etf_x), etf_holdings, color=ORANGE, lw=1.6)
line_key(658.5, 696, 1539, DARK, "BTC价格($)", 704)
line_key(831.5, 869, 1539, ORANGE, "Purpose ETF 持仓量", 876.5)

# panel 5
card_chrome(COL2, ROW2, "上市公司持有BTC总数", "已收录的上市公司持有BTC的总数", 1323, 2041, 2008, 2047, 1690, R2)
ax, rx = panel((1392, 1978, 1191.5, 1456), "2021-03-22", "2022-02-13",
               ["03/22\n2021", "05/13\n2021", "07/04\n2021", "08/25\n2021", "10/16\n2021", "12/07\n2021", "01/28\n2022"],
               [76970, 30090], ["76.97K", "30.09K"], (30090, 76970),
               [176, 180, 190, 200, 210, 220, 230, 240],
               ["", "180.00K", "190.00K", "200.00K", "210.00K", "220.00K", "230.00K", "240.00K"], (176, 240))
mask = recent_x >= "2021-03-22"
ax.plot(num(recent_x[mask]), recent_usd[mask], color=DARK, lw=1.2)
rx.step(num(listed_dates), listed_btc, where="post", color=ORANGE, lw=1.6)
line_key(1546, 1584, 1539, DARK, "BTC价格($)", 1592)
line_key(1719, 1757, 1539, ORANGE, "持有总数", 1764)

# panel 6
card_chrome(COL3, ROW2, "ETH借贷总存款量", "已收录借贷项目的总存款量", 2165, 2883, 2850, 2890, 2532, R2)
ax, rx = panel((2224, 2829, 1191.5, 1456), "2017-12-17", "2022-02-13",
               ["12/17\n2017", "08/05\n2018", "03/24\n2019", "11/10\n2019", "06/28\n2020", "02/14\n2021", "10/03\n2021"],
               [5390, 1000, 100], ["5.39K", "1.00K", "100"], (83, 5390),
               [0.00008, 10, 20, 30, 40, 50, 60, 70],
               ["80.24K", "10.00G", "20.00G", "30.00G", "40.00G", "50.00G", "60.00G", "70.00G"], (0.00008, 70))
eth_x = pd.date_range("2017-12-17", periods=len(eth_price), freq="10D")
lending_x = pd.Timestamp("2017-12-17") + pd.to_timedelta(lending_days, unit="D")
ax.plot(num(eth_x), eth_price, color=DARK, lw=1.3)
rx.plot(num(lending_x), lending_eth, color=ORANGE, lw=1.5)
line_key(2355, 2393, 1539, DARK, "ETH价格($)", 2400)
line_key(2531, 2568, 1539, ORANGE, "借贷总存款(ETH)", 2575)

# top edge of the next row of cards
for x0, x1 in (COL1, COL2, COL3):
    box(x0, 1630, x1, 1670, 14, "white", ec="#f3f4f8", lw=1.2, z=1)

fig.savefig("out.png", dpi=100)
